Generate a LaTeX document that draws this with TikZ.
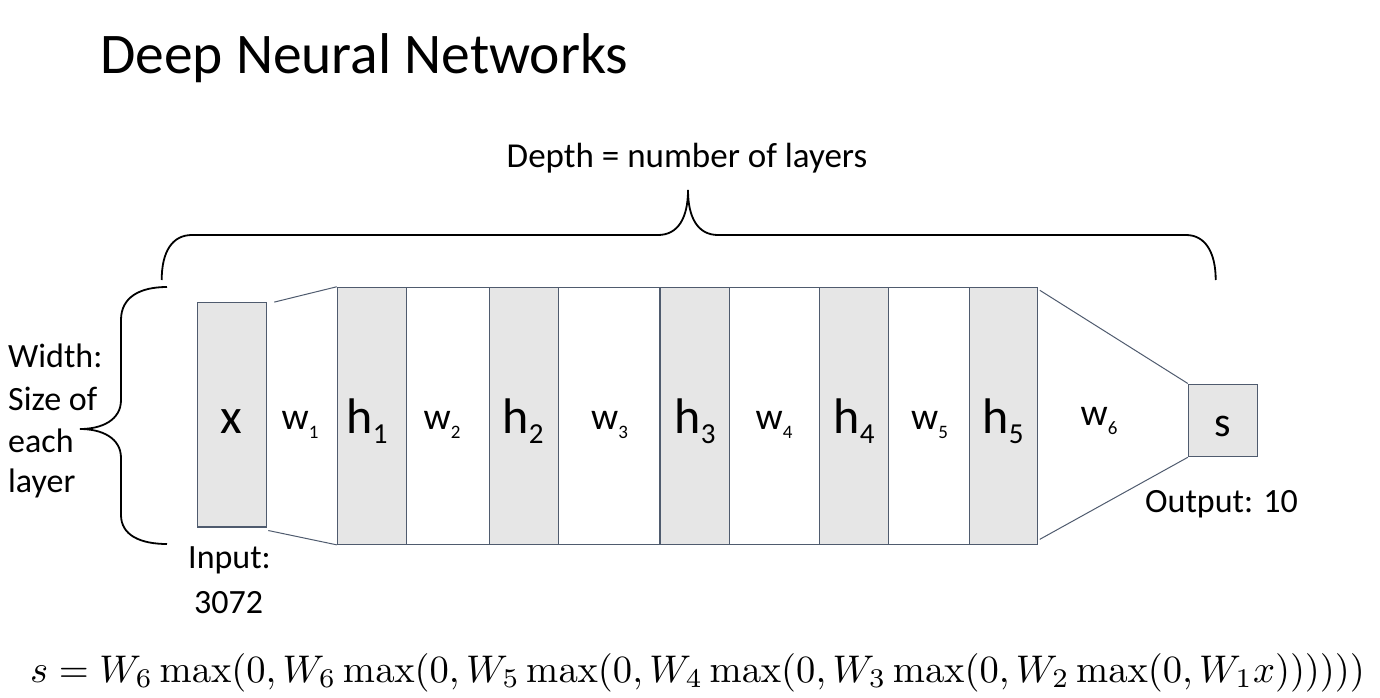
\documentclass[tikz,border=0pt]{standalone}
\usepackage[no-math]{fontspec}
\setmainfont{Carlito}
\definecolor{boxline}{HTML}{4F5B6E}
\definecolor{boxfill}{HTML}{E6E6E6}
\newcommand{\hlab}[1]{{\fontsize{50}{54}\selectfont h}\raisebox{-10pt}{\fontsize{29}{32}\selectfont #1}}
\newcommand{\wlab}[1]{{\fontsize{38}{40}\selectfont w}\raisebox{-9pt}{\fontsize{19}{22}\selectfont #1}}
\begin{document}
\begin{tikzpicture}[x=1pt,y=-1pt,
  layer/.style={draw=boxline, fill=boxfill, line width=1.1pt, inner sep=0pt, rectangle},
  wbox/.style={draw=boxline, fill=white, line width=1.1pt, inner sep=0pt, rectangle},
  conn/.style={draw=boxline, line width=1pt},
  brace/.style={draw=black, line width=1.8pt},
  lbl/.style={font=\fontsize{34}{38}\selectfont, inner sep=0pt, anchor=base}]
\useasboundingbox (0,0) rectangle (1380,698);
% title
\node[anchor=base west, inner sep=0pt, font=\fontsize{57.5}{60}\selectfont] (title) at (100,74) {Deep Neural Networks};
% white weight boxes
\node[wbox, minimum width=83pt, minimum height=257pt] (w2b) at (447.8,415.8) {};
\node[wbox, minimum width=101pt, minimum height=257pt] (w3b) at (608.8,415.8) {};
\node[wbox, minimum width=90pt, minimum height=257pt] (w4b) at (774.3,415.8) {};
\node[wbox, minimum width=81pt, minimum height=257pt] (w5b) at (928.8,415.8) {};
% layers
\node[layer, minimum width=69.4pt, minimum height=224.3pt] (x) at (232,414.8) {};
\node[layer, minimum width=69pt, minimum height=257pt] (h1) at (371.8,415.8) {};
\node[layer, minimum width=69.4pt, minimum height=257pt] (h2) at (523.9,415.8) {};
\node[layer, minimum width=69pt, minimum height=257pt] (h3) at (694.8,415.8) {};
\node[layer, minimum width=69pt, minimum height=257pt] (h4) at (853.8,415.8) {};
\node[layer, minimum width=68.4pt, minimum height=257pt] (h5) at (1003.5,415.8) {};
\node[layer, minimum width=68.7pt, minimum height=72.7pt] (s) at (1222.7,420.4) {};
% connectors
\coordinate (xt) at ([xshift=7pt]x.north east);
\coordinate (xb) at ([xshift=1pt,yshift=-3pt]x.south east);
\draw[conn] (xt) -- (h1.north west);
\draw[conn] (xb) -- (h1.south west);
\coordinate (h5t) at ([xshift=1.5pt,yshift=-3.5pt]h5.north east);
\coordinate (h5b) at ([xshift=1.5pt,yshift=5.5pt]h5.south east);
\draw[conn] (h5t) -- (s.north west);
\draw[conn] (h5b) -- (s.south west);
% labels inside
\node[lbl, font=\fontsize{50}{54}\selectfont] (xl) at (231,433) {x};
\node[lbl] (w1l) at (300,429) {\wlab{1}};
\node[lbl] (h1l) at (367,433) {\hlab{1}};
\node[lbl] (w2l) at (442,429) {\wlab{2}};
\node[lbl] (h2l) at (523,433) {\hlab{2}};
\node[lbl] (w3l) at (609.5,429) {\wlab{3}};
\node[lbl] (h3l) at (695,433) {\hlab{3}};
\node[lbl] (w4l) at (774,429) {\wlab{4}};
\node[lbl] (h4l) at (854,433) {\hlab{4}};
\node[lbl] (w5l) at (929.6,429) {\wlab{5}};
\node[lbl] (h5l) at (1003,433) {\hlab{5}};
\node[lbl] (w6l) at (1099,425) {\wlab{6}};
\node[lbl, font=\fontsize{42}{46}\selectfont] (sl) at (1222.7,436) {s};
% outer labels
\node[lbl, anchor=base west] (out) at (1145,512) {Output: 10};
\node[lbl, anchor=base west] (in1) at (188,568) {Input:};
\node[lbl, anchor=base west] (in2) at (194,613) {3072};
\node[lbl, anchor=base west] (wd1) at (8,367) {Width:};
\node[lbl, anchor=base west] (wd2) at (8,410) {Size of};
\node[lbl, anchor=base west] (wd3) at (8,452) {each};
\node[lbl, anchor=base west] (wd4) at (8,492) {layer};
\node[lbl, font=\fontsize{35}{38}\selectfont] (depth) at (687,167) {Depth = number of layers};
% braces
\draw[brace] (161.7,280) .. controls (161.7,252) and (172,235) .. (192,235) -- (658,235)
  .. controls (678,235) and (688,218) .. (688,190)
  .. controls (688,218) and (698,235) .. (718,235) -- (1186,235)
  .. controls (1205,235) and (1215.7,252) .. (1215.7,280);
\draw[brace] (167,287) .. controls (140,287) and (121,297) .. (121,320) -- (121,400)
  .. controls (121,420) and (102,429) .. (80,429)
  .. controls (102,429) and (121,438) .. (121,458) -- (121,515)
  .. controls (121,535) and (140,544) .. (167,544);
% equation
\node[inner sep=0pt, anchor=base] (eq) at (697.5,682) {\resizebox{1335pt}{!}{$s = W_6\max(0, W_6\max(0, W_5\max(0, W_4\max(0, W_3\max(0, W_2\max(0, W_1x))))))$}};
\end{tikzpicture}
\end{document}
